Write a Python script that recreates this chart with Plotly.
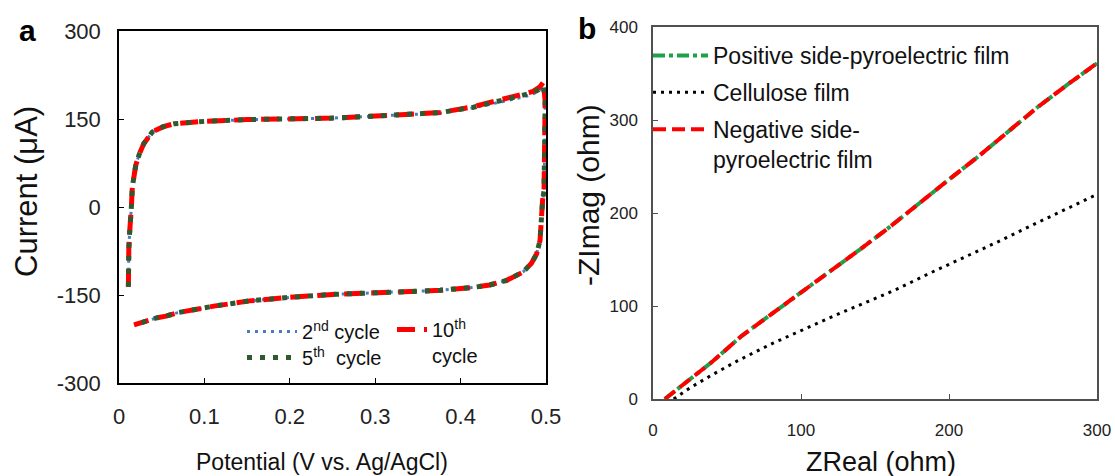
import plotly.graph_objects as go

# ---------------- Panel a: cyclic voltammetry ----------------
potential = [0.011, 0.011, 0.0115, 0.0125, 0.0137, 0.0145, 0.0156, 0.0176, 0.0196, 0.0235,
             0.029, 0.039, 0.052, 0.065, 0.08, 0.1, 0.15, 0.2, 0.25, 0.3,
             0.34, 0.376, 0.415, 0.454, 0.475, 0.485, 0.493, 0.497, 0.499, 0.499,
             0.4985, 0.4977, 0.496, 0.495, 0.493, 0.489, 0.483, 0.473, 0.454, 0.434,
             0.415, 0.376, 0.34, 0.3, 0.25, 0.2, 0.153, 0.111, 0.094, 0.069,
             0.055, 0.044, 0.0176]
current_2nd = [-136, -100, -70, -42, -23, 0, 34, 62, 71, 89,
               108, 128, 137, 142, 144, 146, 149, 150, 151.5, 155,
               158, 160, 169, 182, 188, 193, 199, 204, 180, 148,
               80, 28, 11, -8, -57, -80, -96, -111, -125, -133,
               -137, -142, -144, -146, -149, -154, -160, -169, -173, -180,
               -186, -189, -201]
current_5th = [-136, -100, -70, -42, -23, 0, 34, 62, 71, 89,
               108, 128, 137, 142, 144, 146, 149, 150, 151.5, 155,
               158, 161, 170, 184, 190, 195, 201, 207, 180, 148,
               80, 28, 11, -8, -57, -80, -96, -111, -125, -133,
               -137, -142, -144, -146, -149, -154, -160, -169, -173, -180,
               -186, -189, -201]
current_10th = [-136, -100, -70, -42, -23, 0, 34, 62, 71, 89,
                108, 128, 137, 142, 144, 146, 149, 150, 151.5, 155,
                158, 161, 171, 185, 192, 197, 205, 213, 180, 148,
                80, 28, 11, -8, -57, -80, -96, -111, -125, -133,
                -137, -142, -144, -146, -149, -154, -160, -169, -173, -180,
                -186, -189, -201]
potential_ticks = [0, 0.1, 0.2, 0.3, 0.4, 0.5]
potential_labels = ["0", "0.1", "0.2", "0.3", "0.4", "0.5"]
current_ticks = [-300, -150, 0, 150, 300]
current_labels = ["-300", "-150", "0", "150", "300"]

# ---------------- Panel b: Nyquist plot ----------------
zreal_pos = [8, 20, 40, 60, 80, 100, 120, 140, 160, 180, 200, 220, 240, 260, 280, 300]
zimag_pos = [0, 15, 40, 68, 91, 114, 137, 161, 185, 211, 236, 261, 288, 314, 338, 361]
zreal_neg = [8, 20, 40, 60, 80, 100, 120, 140, 160, 180, 200, 220, 240, 260, 280, 300]
zimag_neg = [0, 15, 40, 68, 91, 114, 137, 161, 185, 211, 236, 261, 288, 314, 338, 361]
zreal_cel = [14, 25, 40, 57, 81, 105, 129, 153, 166, 188, 210, 233, 255, 278, 300]
zimag_cel = [0, 12, 26, 41, 60, 77, 94, 110, 119, 136, 152, 169, 186, 203, 220]
zreal_ticks = [0, 100, 200, 300]
zimag_ticks = [0, 100, 200, 300, 400]

W, H = 1115, 476
def px(x): return x / W
def py(y): return 1 - y / H

SANS = "Liberation Sans, Arial, sans-serif"

fig = go.Figure()

fig.add_trace(go.Scatter(x=potential, y=current_2nd, mode="lines", showlegend=True,
                         name="2<sup>nd</sup> cycle", legend="legend",
                         line=dict(color="#4a7cc4", width=3, dash="3px,5px"),
                         xaxis="x", yaxis="y"))
fig.add_trace(go.Scatter(x=potential, y=current_10th, mode="lines", showlegend=True,
                         name="10<sup>th</sup><br>cycle", legend="legend2",
                         line=dict(color="#ff0000", width=5, dash="18px,9px"),
                         xaxis="x", yaxis="y"))
fig.add_trace(go.Scatter(x=potential, y=current_5th, mode="lines", showlegend=True,
                         name="5<sup>th</sup>  cycle", legend="legend4",
                         line=dict(color="#2f5a2f", width=5, dash="5px,8px"),
                         xaxis="x", yaxis="y"))

fig.add_trace(go.Scatter(x=zreal_pos, y=zimag_pos, mode="lines", showlegend=True,
                         name="Positive side-pyroelectric film", legend="legend3", legendgroup="p",
                         line=dict(color="#1fa04a", width=4, dash="dashdot"),
                         xaxis="x2", yaxis="y2"))
fig.add_trace(go.Scatter(x=zreal_cel, y=zimag_cel, mode="lines", showlegend=True,
                         name="Cellulose film", legend="legend3", legendgroup="c",
                         line=dict(color="#000000", width=3, dash="3px,5px"),
                         xaxis="x2", yaxis="y2"))
fig.add_trace(go.Scatter(x=zreal_neg, y=zimag_neg, mode="lines", showlegend=True,
                         name="Negative side-<br>pyroelectric film", legend="legend3", legendgroup="n",
                         line=dict(color="#ff0000", width=4, dash="13px,6px"),
                         xaxis="x2", yaxis="y2"))

def axis_common(color):
    return dict(showline=True, linecolor=color, linewidth=1.5, mirror=True,
                ticks="inside", ticklen=5, tickcolor=color, showgrid=False,
                zeroline=False, automargin=False)

leg_a = dict(xanchor="left", yanchor="top", valign="top", bgcolor="rgba(0,0,0,0)",
             visible=True, font=dict(family=SANS, size=20, color="#111"))

fig.update_layout(
    width=W, height=H, showlegend=True,
    margin=dict(l=0, r=0, t=0, b=0, autoexpand=False),
    paper_bgcolor="white", plot_bgcolor="white",
    xaxis=dict(domain=[px(119), px(546)], range=[0, 0.5], tickvals=potential_ticks,
               ticktext=potential_labels,
               tickfont=dict(family=SANS, size=22, color="#222"), ticklabelstandoff=13,
               anchor="y", **axis_common("#000000")),
    yaxis=dict(domain=[py(383), py(31)], range=[-300, 300], tickvals=current_ticks,
               ticktext=current_labels,
               tickfont=dict(family=SANS, size=22, color="#222"), ticklabelstandoff=12,
               anchor="x", **axis_common("#000000")),
    xaxis2=dict(domain=[px(653), px(1097)], range=[0, 300], tickvals=zreal_ticks,
                tickfont=dict(family=SANS, size=17, color="#222"), ticklabelstandoff=15,
                anchor="y2", **axis_common("#505050")),
    yaxis2=dict(domain=[py(399), py(27)], range=[0, 400], tickvals=zimag_ticks,
                tickfont=dict(family=SANS, size=17, color="#222"), ticklabelstandoff=10,
                anchor="x2", **axis_common("#505050")),
    legend=dict(x=px(242), y=py(312), itemwidth=50, **leg_a),
    legend4=dict(x=px(242), y=py(338), itemwidth=50, **leg_a),
    legend2=dict(x=px(392), y=py(310), itemwidth=30, **leg_a),
    legend3=dict(x=px(648), y=py(34), xanchor="left", yanchor="top", valign="top",
                 bgcolor="rgba(0,0,0,0)", font=dict(family=SANS, size=23, color="#111"),
                 itemwidth=55, tracegroupgap=4, traceorder="grouped", visible=True),
    annotations=[
        dict(text="<b>a</b>", x=px(27), y=py(30), xref="paper", yref="paper", showarrow=False,
             xanchor="center", yanchor="middle", font=dict(family=SANS, size=30, color="#000")),
        dict(text="<b>b</b>", x=px(587), y=py(28), xref="paper", yref="paper", showarrow=False,
             xanchor="center", yanchor="middle", font=dict(family=SANS, size=30, color="#000")),
        dict(text="Current (μA)", x=px(26), y=py(192), xref="paper", yref="paper",
             xanchor="center", yanchor="middle",
             showarrow=False, textangle=-90, font=dict(family=SANS, size=31, color="#111")),
        dict(text="Potential (V vs. Ag/AgCl)", x=px(322), y=py(462), xref="paper", yref="paper",
             xanchor="center", yanchor="middle",
             showarrow=False, font=dict(family=SANS, size=23, color="#111")),
        dict(text="-ZImag (ohm)", x=px(588), y=py(195), xref="paper", yref="paper",
             xanchor="center", yanchor="middle",
             showarrow=False, textangle=-90, font=dict(family=SANS, size=30, color="#111")),
        dict(text="ZReal (ohm)", x=px(881), y=py(462), xref="paper", yref="paper",
             xanchor="center", yanchor="middle",
             showarrow=False, font=dict(family=SANS, size=27, color="#111")),
    ],
)

fig.write_html("out.html")
